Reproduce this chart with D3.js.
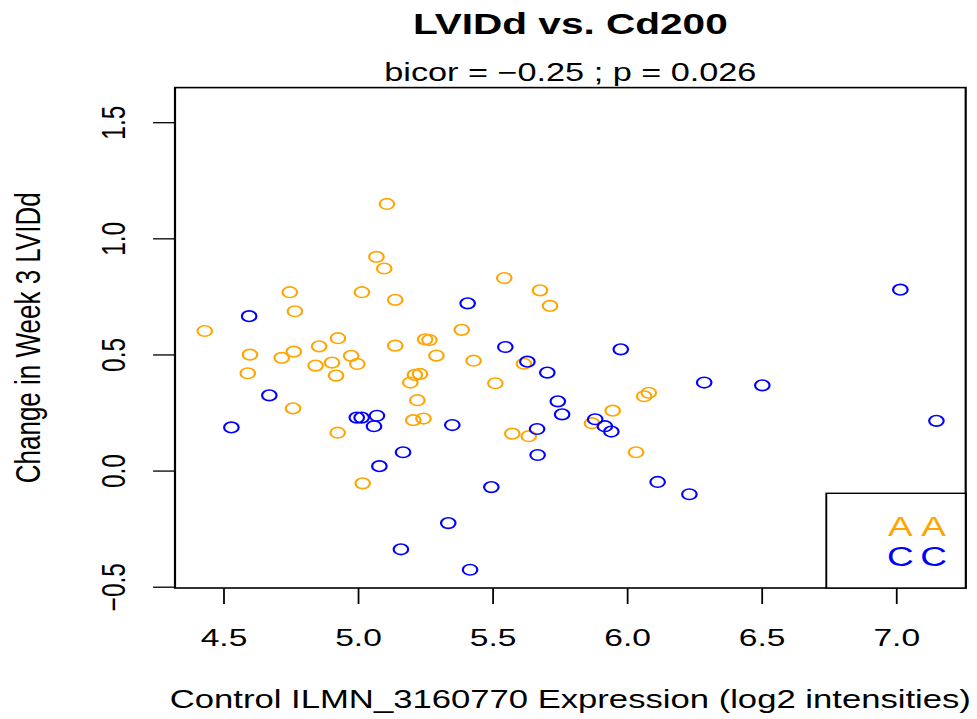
<!DOCTYPE html>
<html>
<head>
<meta charset="utf-8">
<script src="https://cdn.jsdelivr.net/npm/d3@7"></script>
<style>
body { margin: 0; background: #fff; }
svg text { font-family: "Liberation Sans", Arial, Helvetica, sans-serif; }
</style>
</head>
<body>
<svg id="chart"></svg>
<script>
// values
var orange_x = [5.108, 5.069, 5.098, 4.747, 5.015, 5.139, 4.766, 4.431, 5.386, 4.926,
	5.250, 5.266, 4.599, 4.762, 4.717, 4.856, 5.139, 4.975, 5.292, 5.430,
	4.591, 4.843, 4.904, 4.998, 4.919, 5.212, 5.231, 5.195, 4.759, 5.221,
	5.206, 5.244, 4.925, 5.018, 5.544, 5.677, 5.714, 5.617, 5.511, 6.081,
	6.064, 5.947, 5.870, 5.574, 5.635, 6.034];
var orange_y = [1.148, 0.920, 0.870, 0.768, 0.768, 0.735, 0.686, 0.601, 0.606, 0.570,
	0.565, 0.562, 0.499, 0.512, 0.485, 0.535, 0.538, 0.494, 0.495, 0.473,
	0.419, 0.452, 0.465, 0.459, 0.409, 0.412, 0.416, 0.379, 0.268, 0.303,
	0.217, 0.224, 0.163, -0.055, 0.829, 0.776, 0.709, 0.460, 0.376, 0.335,
	0.320, 0.258, 0.204, 0.159, 0.148, 0.079];
var blue_x = [4.596, 5.408, 4.671, 4.530, 4.996, 5.014, 5.071, 5.060, 5.351, 5.168,
	5.080, 5.336, 5.160, 5.417, 5.548, 5.977, 5.630, 5.704, 6.287, 5.743,
	5.759, 5.882, 5.918, 5.942, 5.666, 5.668, 6.114, 5.496, 6.232, 6.503,
	7.016, 7.150];
var blue_y = [0.665, 0.720, 0.324, 0.186, 0.228, 0.228, 0.236, 0.191, 0.196, 0.079,
	0.019, -0.226, -0.339, -0.427, 0.532, 0.522, 0.469, 0.422, 0.379, 0.298,
	0.242, 0.221, 0.191, 0.168, 0.179, 0.067, -0.049, -0.071, -0.102, 0.367,
	0.779, 0.214];
var x_ticks = [4.5, 5.0, 5.5, 6.0, 6.5, 7.0];
var y_ticks = [-0.5, 0.0, 0.5, 1.0, 1.5];
var legend_labels = ['A', 'C'];
var legend_colors = ['#FFA500', '#0000FF'];

// the reference is stretched sideways, so draw narrow and let the viewBox widen it
var stretch = 1.37;
var width = 977, height = 719;
var vb_width = width / stretch;
var plot_left = 175 / stretch, plot_right = 965.7 / stretch, plot_top = 87.6, plot_bottom = 588;
var mid_x = (plot_left + plot_right) / 2;

var svg = d3.select('#chart')
	.attr('width', width)
	.attr('height', height)
	.attr('viewBox', '0 0 ' + vb_width + ' ' + height)
	.attr('preserveAspectRatio', 'none');

var x = d3.scaleLinear().domain([4.3205, 7.2588]).range([plot_left, plot_right]);
var y = d3.scaleLinear().domain([-0.5056, 1.649]).range([plot_bottom, plot_top]);

// x axis
var gx = svg.append('g')
	.attr('transform', 'translate(0,' + plot_bottom + ')')
	.call(d3.axisBottom(x).tickValues(x_ticks).tickSize(16).tickFormat(d3.format('.1f')));
gx.select('.domain').remove();
gx.selectAll('line').attr('stroke', '#000').attr('stroke-width', 1.3);
gx.selectAll('text')
	.attr('y', 58).attr('dy', null)
	.attr('font-size', 24.5).attr('fill', '#000');

// y axis, labels turned like R does
var gy = svg.append('g')
	.attr('transform', 'translate(' + plot_left + ',0)')
	.call(d3.axisLeft(y).tickValues(y_ticks).tickSize(16).tickFormat(d3.format('.1f')));
gy.select('.domain').remove();
gy.selectAll('line').attr('stroke', '#000').attr('stroke-width', 1.3);
gy.selectAll('text')
	.attr('x', null).attr('dy', null)
	.attr('transform', 'translate(-36.5,0) rotate(-90)')
	.attr('text-anchor', 'middle')
	.attr('font-size', 24.5).attr('fill', '#000');

// plot box
svg.append('rect')
	.attr('x', plot_left).attr('y', plot_top)
	.attr('width', plot_right - plot_left).attr('height', plot_bottom - plot_top)
	.attr('fill', 'none').attr('stroke', '#000').attr('stroke-width', 1.6);

// points
svg.append('g').selectAll('circle')
	.data(d3.zip(orange_x, orange_y))
	.join('circle')
	.attr('cx', function(d) { return x(d[0]); })
	.attr('cy', function(d) { return y(d[1]); })
	.attr('r', 5.3)
	.attr('fill', 'none').attr('stroke', '#FFA500').attr('stroke-width', 1.6);
svg.append('g').selectAll('circle')
	.data(d3.zip(blue_x, blue_y))
	.join('circle')
	.attr('cx', function(d) { return x(d[0]); })
	.attr('cy', function(d) { return y(d[1]); })
	.attr('r', 5.3)
	.attr('fill', 'none').attr('stroke', '#0000FF').attr('stroke-width', 1.6);

// legend box in the bottom right
var leg_left = 826.3 / stretch, leg_top = 493.3;
svg.append('rect')
	.attr('x', leg_left).attr('y', leg_top)
	.attr('width', plot_right - leg_left).attr('height', plot_bottom - leg_top)
	.attr('fill', '#fff').attr('stroke', '#000').attr('stroke-width', 1.4);
var leg_rows = [536, 566.5];
legend_labels.forEach(function(lab, i) {
	[900.3, 933.5].forEach(function(px) {
		svg.append('text')
			.attr('x', px / stretch).attr('y', leg_rows[i])
			.attr('text-anchor', 'middle')
			.attr('font-size', 27)
			.attr('fill', legend_colors[i])
			.text(lab);
	});
});

// titles
svg.append('text')
	.attr('x', mid_x).attr('y', 34.3)
	.attr('text-anchor', 'middle')
	.attr('font-size', 29.6).attr('font-weight', 'bold')
	.text('LVIDd vs. Cd200');
svg.append('text')
	.attr('x', mid_x).attr('y', 81)
	.attr('text-anchor', 'middle')
	.attr('font-size', 25)
	.text('bicor = \u22120.25 ; p = 0.026');
svg.append('text')
	.attr('x', mid_x).attr('y', 708.3)
	.attr('text-anchor', 'middle')
	.attr('font-size', 25.3)
	.text('Control ILMN_3160770 Expression (log2 intensities)');
svg.append('text')
	.attr('transform', 'translate(' + (40 / stretch) + ',' + ((plot_top + plot_bottom) / 2) + ') rotate(-90)')
	.attr('text-anchor', 'middle')
	.attr('font-size', 26)
	.text('Change in Week 3 LVIDd');
</script>
</body>
</html>
